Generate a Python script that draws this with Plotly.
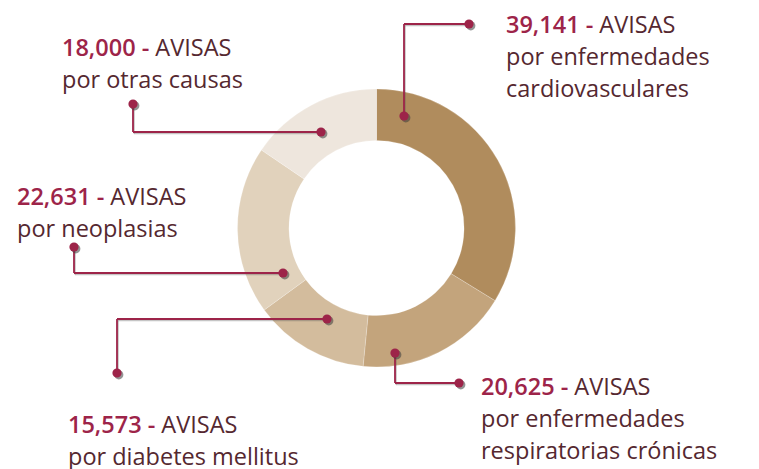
import plotly.graph_objects as go

# page has an 8px body margin; figure sized to fill the rest of the window
OFF = 8
W, H = 759 - OFF, 469 - OFF

# ---- data ----
categories = ["cardiovasculares", "respiratorias", "diabetes", "neoplasias", "otras"]
values = [39141, 20625, 15573, 22631, 18000]
desc_lines = [
    ["por enfermedades", "cardiovasculares"],
    ["por enfermedades", "respiratorias crónicas"],
    ["por diabetes mellitus"],
    ["por neoplasias"],
    ["por otras causas"],
]
slice_colors = ["#B08C5D", "#C3A47C", "#D3BC9D", "#E1D2BC", "#EEE6DD"]

# ---- styling / layout (page pixel positions) ----
CRIMSON = "#9D2449"
DARK = "#552830"
FONT = "Open Sans"
FS = 23.5
LINE_GAP = 32

paths = [
    [(404, 116), (404, 24), (469, 24)],
    [(395, 353), (395, 383), (459, 383)],
    [(327, 319), (117, 319), (117, 373)],
    [(283, 273), (74, 273), (74, 247)],
    [(321, 132), (133, 132), (133, 104)],
]
text_pos = [(504, 24), (479, 386), (66, 424), (15, 196), (60, 47)]

def px(x):
    return (x - OFF) / W

def py(y):
    return 1 - (y - OFF) / H

cx, cy, r = 376.5, 228, 139

fig = go.Figure()
fig.add_trace(go.Pie(
    labels=categories, values=values, hole=0.63, sort=False,
    direction="clockwise", rotation=0,
    marker=dict(colors=slice_colors, line=dict(color="rgba(255,255,255,0.35)", width=0.6)),
    textinfo="none", hoverinfo="label+value", showlegend=False,
    domain=dict(x=[px(cx - r), px(cx + r)], y=[py(cy + r), py(cy - r)]),
))

shapes = []
for path in paths:
    for (x0, y0), (x1, y1) in zip(path[:-1], path[1:]):
        shapes.append(dict(type="line", xref="paper", yref="paper",
                           x0=px(x0 + 1), y0=py(y0 + 1.5), x1=px(x1 + 1), y1=py(y1 + 1.5),
                           line=dict(color="rgba(90,90,90,0.35)", width=1.6), layer="above"))
    for (x0, y0), (x1, y1) in zip(path[:-1], path[1:]):
        shapes.append(dict(type="line", xref="paper", yref="paper",
                           x0=px(x0), y0=py(y0), x1=px(x1), y1=py(y1),
                           line=dict(color=CRIMSON, width=1.8), layer="above"))
    for (x, y) in (path[0], path[-1]):
        rr = 4.6
        shapes.append(dict(type="circle", xref="paper", yref="paper",
                           x0=px(x - rr + 1.8), x1=px(x + rr + 1.8),
                           y0=py(y + rr + 1.8), y1=py(y - rr + 1.8),
                           fillcolor="rgba(60,60,60,0.55)", line=dict(width=0), layer="above"))
        shapes.append(dict(type="circle", xref="paper", yref="paper",
                           x0=px(x - rr), x1=px(x + rr), y0=py(y + rr), y1=py(y - rr),
                           fillcolor=CRIMSON, line=dict(width=0), layer="above"))

annotations = []
for v, lines, (tx, ty) in zip(values, desc_lines, text_pos):
    first = (f"<span style='color:{CRIMSON};font-weight:600'>{v:,} -</span> "
             f"<span style='color:{DARK}'>AVISAS</span>")
    all_lines = [first] + lines
    for i, t in enumerate(all_lines):
        annotations.append(dict(
            text=t, x=px(tx), y=py(ty + i * LINE_GAP), xref="paper", yref="paper",
            xanchor="left", yanchor="middle", showarrow=False,
            font=dict(family=FONT, size=FS, color=DARK),
        ))

fig.update_layout(
    width=W, height=H, margin=dict(l=0, r=0, t=0, b=0),
    paper_bgcolor="white", plot_bgcolor="white",
    shapes=shapes, annotations=annotations,
)
fig.write_html("out.html")
